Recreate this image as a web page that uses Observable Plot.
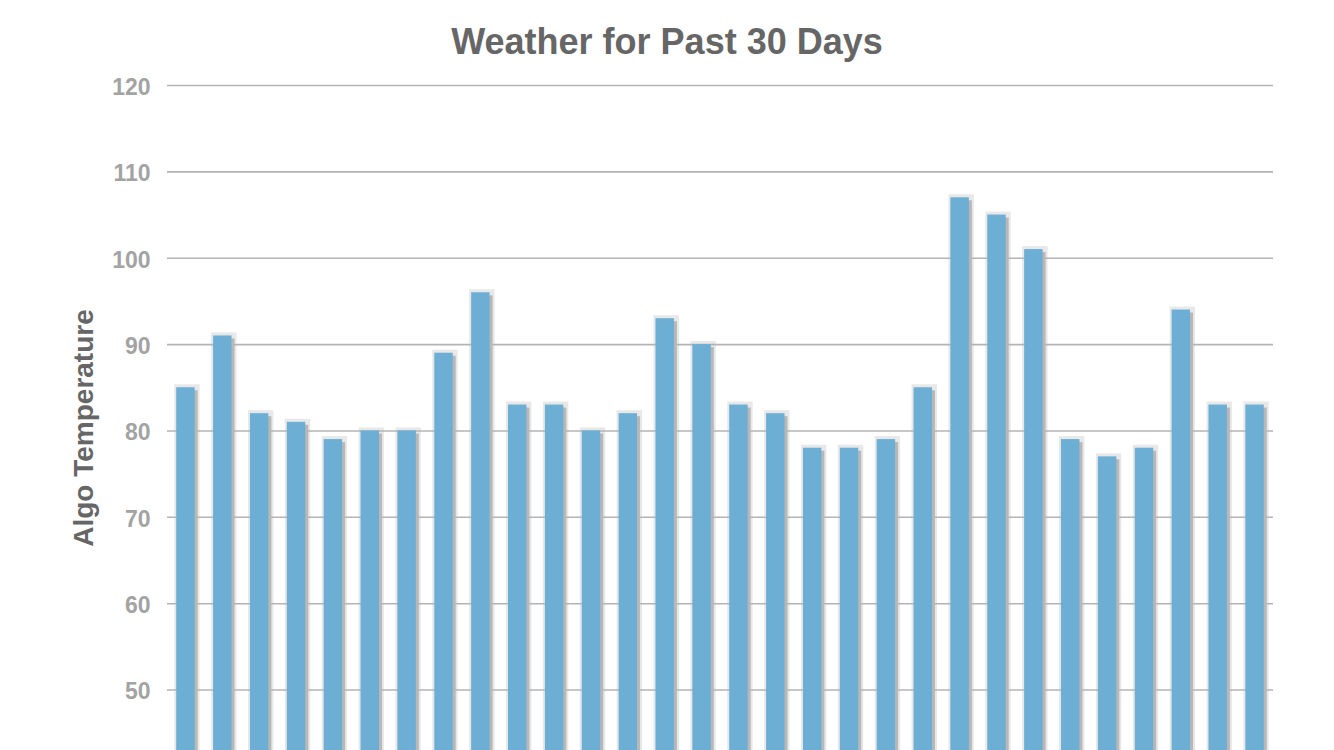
<!DOCTYPE html>
<html>
<head>
<meta charset="utf-8">
<script src="https://cdn.jsdelivr.net/npm/d3@7"></script>
<script src="https://cdn.jsdelivr.net/npm/@observablehq/plot@0.6"></script>
<style>
  html, body { margin: 0; padding: 0; background: #fff; overflow: hidden; }
  #wrap { position: relative; width: 1334px; height: 750px; }
  #title { position: absolute; left: 0; top: 24px; width: 1334px; text-align: center;
           font: bold 36px "Liberation Sans", Arial, sans-serif; line-height: 36px; color: #666; }
  #chart { position: absolute; left: 0; top: 65px; }
</style>
</head>
<body>
<div id="wrap">
  <div id="title">Weather for Past 30 Days</div>
  <div id="chart"></div>
</div>
<script>
const days = d3.range(1, 31);
const temps = [85, 91, 82, 81, 79, 80, 80, 89, 96, 83, 83, 80, 82, 93, 90, 83, 82, 78, 78, 79, 85, 107, 105, 101, 79, 77, 78, 94, 83, 83];
const yTicks = [50, 60, 70, 80, 90, 100, 110, 120];
const yLabel = "Algo Temperature";

const data = days.map((d, i) => ({day: d, temp: temps[i]}));

const chart = Plot.plot({
  width: 1334,
  height: 685,
  marginTop: 20,
  marginBottom: 0,
  marginLeft: 167,
  marginRight: 61,
  style: {fontFamily: "'Liberation Sans', Arial, sans-serif", background: "transparent"},
  x: {type: "band", domain: days, paddingInner: 0.5, paddingOuter: 0.25, round: false, axis: null},
  y: {domain: [43, 120], ticks: yTicks, axis: null},
  marks: [
    // halo behind bars
    Plot.barY(data, {x: "day", y: "temp", fill: "#e8e8e8", insetLeft: -2, insetRight: -5, insetTop: -3, clip: true}),
    // gridlines
    Plot.ruleY(yTicks, {stroke: "#b4b4b4", strokeWidth: 1.6}),
    // gray drop shadow
    Plot.barY(data, {x: "day", y: "temp", fill: "#b8b8b8", dx: 3, dy: 3, clip: true}),
    // bars
    Plot.barY(data, {x: "day", y: "temp", fill: "#6caed4", clip: true}),
    // tick labels
    Plot.axisY(yTicks, {anchor: "left", tickSize: 0, tickPadding: 17, label: null,
      fontSize: 23, fontWeight: "bold", fill: "#a3a3a3", dy: 2}),
    // y label
    Plot.text([yLabel], {frameAnchor: "left", textAnchor: "middle", dx: -83, dy: 10, rotate: -90,
      fontSize: 28, fontWeight: "bold", fill: "#666"})
  ]
});
document.getElementById("chart").appendChild(chart);
</script>
</body>
</html>
